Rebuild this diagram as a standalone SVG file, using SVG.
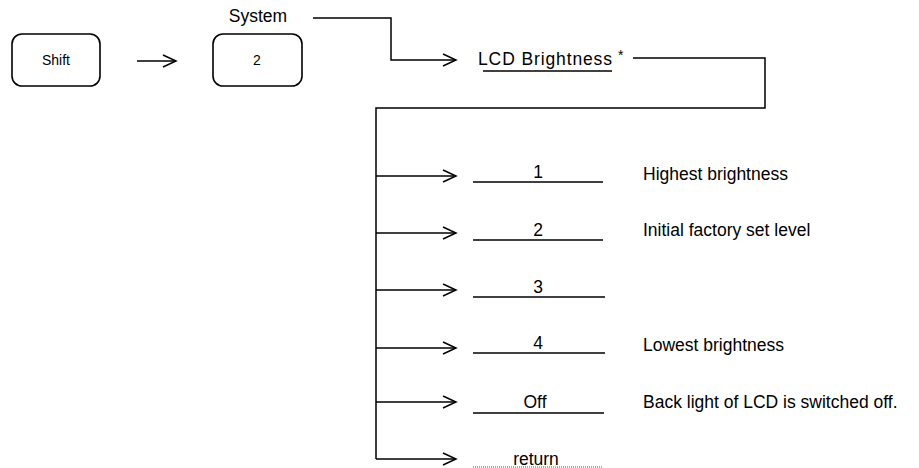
<svg xmlns="http://www.w3.org/2000/svg" width="919" height="468" viewBox="0 0 919 468">
<defs>
<marker id="ah" markerWidth="16" markerHeight="14" refX="14" refY="7" orient="auto" markerUnits="userSpaceOnUse">
<path d="M1,1 L14,7 L1,13" fill="none" stroke="#000" stroke-width="1.5"/>
</marker>
</defs>
<style>
text{font-family:"Liberation Sans",Arial,sans-serif;fill:#000}
.t{font-size:17.5px}
.s{font-size:14px}
.c{text-anchor:middle}
.ln{fill:none;stroke:#000;stroke-width:1.5}
.ul{stroke:#000;stroke-width:1.5}
.box{fill:#fff;stroke:#000;stroke-width:1.6}
</style>
<rect width="919" height="468" fill="#fff"/>
<g id="connectors">
<line class="ln" x1="137" y1="61" x2="176" y2="61" marker-end="url(#ah)"/>
<path class="ln" d="M313,18 H391 V60 H456" marker-end="url(#ah)"/>
<path class="ln" d="M633,58 H765 V108 H376 V459"/>
<line class="ln" x1="376" y1="176" x2="456" y2="176" marker-end="url(#ah)"/>
<line class="ln" x1="376" y1="233" x2="456" y2="233" marker-end="url(#ah)"/>
<line class="ln" x1="376" y1="290" x2="456" y2="290" marker-end="url(#ah)"/>
<line class="ln" x1="376" y1="348" x2="456" y2="348" marker-end="url(#ah)"/>
<line class="ln" x1="376" y1="402" x2="456" y2="402" marker-end="url(#ah)"/>
<line class="ln" x1="376" y1="459" x2="456" y2="459" marker-end="url(#ah)"/>
</g>
<g id="shift">
<rect class="box" x="12" y="34" width="88" height="52" rx="10"/>
<text class="s c" x="56" y="65">Shift</text>
</g>
<g id="key2">
<text class="t c" x="258" y="22">System</text>
<rect class="box" x="213" y="34" width="89" height="52" rx="10"/>
<text class="s c" x="257" y="65">2</text>
</g>
<g id="lcd">
<text class="t" x="478" y="65" textLength="134" lengthAdjust="spacing">LCD Brightness</text>
<text class="s" x="618" y="60">*</text>
<line class="ul" x1="483" y1="71" x2="612" y2="71" stroke-width="1"/>
</g>
<g id="opt1">
<text class="t c" x="538" y="178">1</text>
<line class="ul" x1="473" y1="182" x2="603" y2="182"/>
<text class="t" x="643" y="180">Highest brightness</text>
</g>
<g id="opt2">
<text class="t c" x="538" y="236">2</text>
<line class="ul" x1="473" y1="240" x2="603" y2="240"/>
<text class="t" x="643" y="236">Initial factory set level</text>
</g>
<g id="opt3">
<text class="t c" x="538" y="293">3</text>
<line class="ul" x1="473" y1="297" x2="605" y2="297"/>
</g>
<g id="opt4">
<text class="t c" x="538" y="349">4</text>
<line class="ul" x1="473" y1="353" x2="605" y2="353"/>
<text class="t" x="643" y="351">Lowest brightness</text>
</g>
<g id="optoff">
<text class="t c" x="535" y="408">Off</text>
<line class="ul" x1="473" y1="413" x2="604" y2="413"/>
<text class="t" x="643" y="408">Back light of LCD is switched off.</text>
</g>
<g id="optreturn">
<text class="t c" x="536" y="465">return</text>
<line x1="473" y1="467" x2="602" y2="467" stroke="#555" stroke-width="1" stroke-dasharray="1 1"/>
</g>
</svg>
